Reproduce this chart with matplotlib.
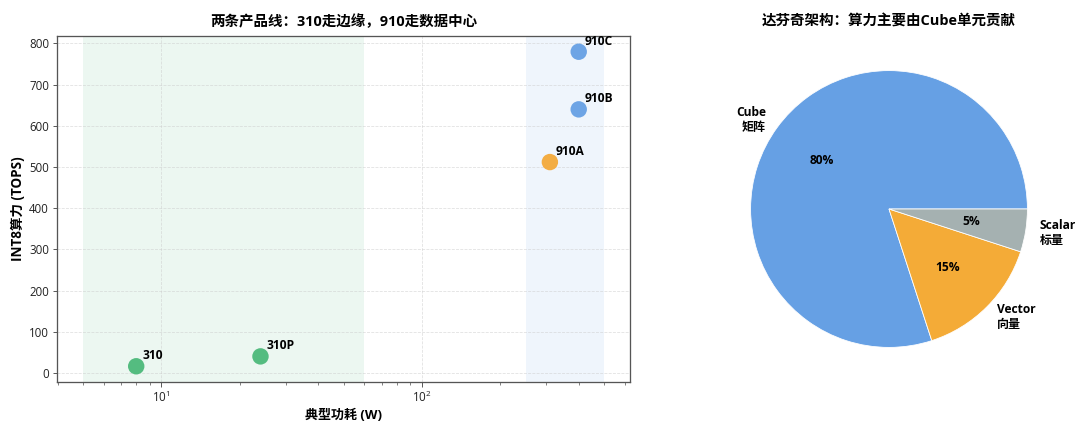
import matplotlib
matplotlib.use("Agg")
import matplotlib.pyplot as plt

plt.rcParams['font.family'] = ['Open Sans', 'Noto Sans CJK SC', 'DejaVu Sans']
plt.rcParams['axes.unicode_minus'] = False

# --- data ---
chips = ["310", "310P", "910A", "910B", "910C"]
power_w = [8, 24, 310, 400, 400]
int8_tops = [16, 40, 512, 640, 780]
chip_colors = ["#4CB97A", "#4CB97A", "#F4A93A", "#66A0E4", "#66A0E4"]

edge_span = (5, 60)
dc_span = (250, 500)

units = ["Cube\n矩阵", "Vector\n向量", "Scalar\n标量"]
shares = [80, 15, 5]
unit_colors = ["#66A0E4", "#F4AB37", "#A5B1B1"]

W, H = 1080, 431
fig = plt.figure(figsize=(W / 72, H / 72), dpi=72)

# --- left: power vs compute ---
ax1 = fig.add_axes([57 / W, (H - 382) / H, (630 - 57) / W, (382 - 36) / H])
ax1.axvspan(*edge_span, color="#4CB97A", alpha=0.1, lw=0)
ax1.axvspan(*dc_span, color="#66A0E4", alpha=0.1, lw=0)
ax1.scatter(power_w, int8_tops, s=270, c=chip_colors, alpha=0.95,
            edgecolors="none", zorder=3)
for name, x, y in zip(chips, power_w, int8_tops):
    ax1.annotate(name, (x, y), xytext=(6, 4), textcoords="offset points",
                 fontsize=12, fontweight="bold", ha="left", va="bottom")
ax1.set_xscale("log")
ax1.set_xlabel("典型功耗 (W)", fontsize=13, fontweight="bold")
ax1.set_ylabel("INT8算力 (TOPS)", fontsize=13.5, fontweight="bold")
ax1.set_title("两条产品线：310走边缘，910走数据中心", fontsize=14.5,
              fontweight="bold", pad=10)
ax1.grid(True, which="major", linestyle="--", color="#cccccc", alpha=0.6, lw=0.8)
ax1.tick_params(labelsize=11.5, colors="#333333", labelcolor="#222222", length=4.5)
ax1.tick_params(which="minor", colors="#333333", length=2.5)
for sp in ax1.spines.values():
    sp.set_color("#555555")
    sp.set_linewidth(1.3)

# --- right: Da Vinci architecture breakdown ---
pie_size = 346
ax2 = fig.add_axes([(889 - pie_size / 2) / W, (H - 382) / H, pie_size / W, pie_size / H])
wedges, texts, autotexts = ax2.pie(
    shares, labels=units, colors=unit_colors, autopct="%1.0f%%",
    startangle=0, wedgeprops=dict(edgecolor="white", linewidth=0.8),
    textprops=dict(fontsize=12, fontweight="bold"))
for t in autotexts:
    t.set_fontsize(12)
ax2.set_title("达芬奇架构：算力主要由Cube单元贡献", fontsize=14.5,
              fontweight="bold", pad=10)

fig.savefig("out.png", dpi=72)
